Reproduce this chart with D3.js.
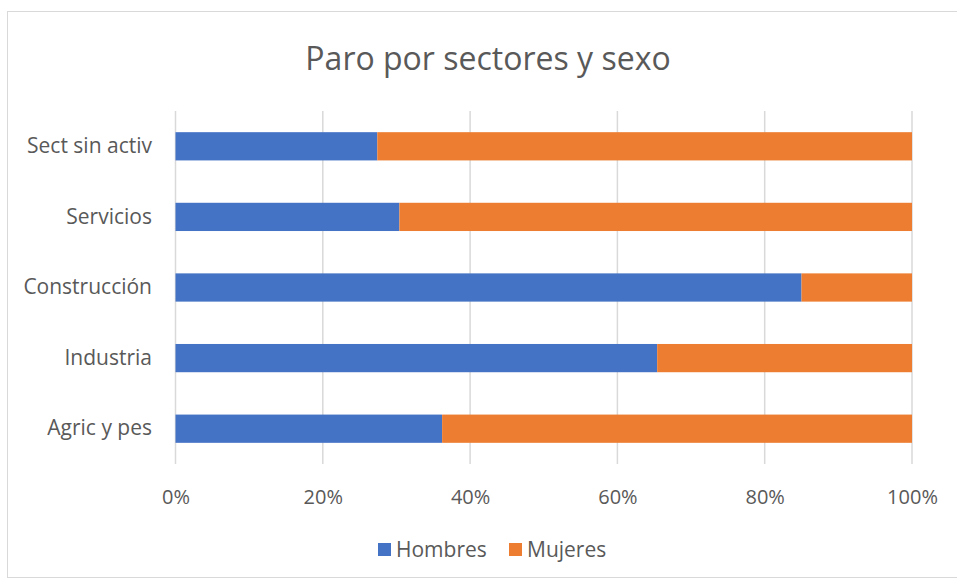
<!DOCTYPE html>
<html>
<head>
<meta charset="utf-8">
<script src="https://cdn.jsdelivr.net/npm/d3@7"></script>
<style>
    body { margin: 0; background: #fff; }
    svg { font-family: "Open Sans", "Noto Sans", sans-serif; }
    .tick text { fill: #595959; }
</style>
</head>
<body>
<script>
    var categories = ['Sect sin activ', 'Servicios', 'Construcción', 'Industria', 'Agric y pes'];
    var hombres = [27.4, 30.4, 85.0, 65.4, 36.2];
    var mujeres = [72.6, 69.6, 15.0, 34.6, 63.8];
    var seriesNames = ['Hombres', 'Mujeres'];
    var seriesColors = ['#4472C4', '#ED7D31'];
    var xTicks = [0, 20, 40, 60, 80, 100];

    var width = 957,
        height = 579;

    var svg = d3.select('body')
        .append('svg')
        .attr('width', width)
        .attr('height', height);

    // Chart frame
    svg.append('rect')
        .attr('x', 7.5)
        .attr('y', 11.5)
        .attr('width', 960)
        .attr('height', 566)
        .attr('fill', '#fff')
        .attr('stroke', '#d9d9d9');

    var xScale = d3.scaleLinear()
        .domain([0, 100])
        .range([175.5, 912]);

    var yScale = d3.scaleBand()
        .domain(categories)
        .range([111, 464])
        .paddingInner(0.6)
        .paddingOuter(0.3);

    // Gridlines
    svg.selectAll('.grid')
        .data(xTicks)
        .enter()
        .append('line')
        .attr('class', 'grid')
        .attr('x1', function (d) { return xScale(d); })
        .attr('x2', function (d) { return xScale(d); })
        .attr('y1', 111)
        .attr('y2', 464)
        .attr('stroke', '#d9d9d9')
        .attr('stroke-width', 1.5);

    // Stack data
    var rows = categories.map(function (c, i) {
        return { cat: c, Hombres: hombres[i], Mujeres: mujeres[i] };
    });
    var stacked = d3.stack().keys(seriesNames)(rows);

    var layers = svg.selectAll('.layer')
        .data(stacked)
        .enter()
        .append('g')
        .attr('class', 'layer')
        .attr('fill', function (d, i) { return seriesColors[i]; });

    layers.selectAll('rect')
        .data(function (d) { return d; })
        .enter()
        .append('rect')
        .attr('x', function (d) { return xScale(d[0]); })
        .attr('width', function (d) { return xScale(d[1]) - xScale(d[0]); })
        .attr('y', function (d) { return yScale(d.data.cat); })
        .attr('height', yScale.bandwidth());

    // X axis
    var xAxis = d3.axisBottom(xScale)
        .tickValues(xTicks)
        .tickSize(0)
        .tickPadding(0)
        .tickFormat(function (d) { return d + '%'; });

    svg.append('g')
        .attr('transform', 'translate(0,490)')
        .call(xAxis)
        .call(function (g) { g.select('.domain').remove(); })
        .selectAll('text')
        .attr('font-size', 20)
        .attr('font-family', '"Open Sans", sans-serif');

    // Y axis
    var yAxis = d3.axisLeft(yScale)
        .tickSize(0)
        .tickPadding(0);

    svg.append('g')
        .attr('transform', 'translate(152,0)')
        .call(yAxis)
        .call(function (g) { g.select('.domain').remove(); })
        .selectAll('text')
        .attr('font-size', 21)
        .attr('font-family', '"Open Sans", sans-serif');

    // Title
    svg.append('text')
        .attr('x', 488)
        .attr('y', 70)
        .attr('text-anchor', 'middle')
        .attr('font-size', 32)
        .attr('fill', '#595959')
        .text('Paro por sectores y sexo');

    // Legend
    var legendX = [378, 509];
    var legend = svg.selectAll('.legend')
        .data(seriesNames)
        .enter()
        .append('g')
        .attr('class', 'legend')
        .attr('transform', function (d, i) { return 'translate(' + legendX[i] + ',543)'; });

    legend.append('rect')
        .attr('width', 13)
        .attr('height', 13)
        .attr('fill', function (d, i) { return seriesColors[i]; });

    legend.append('text')
        .attr('x', 18)
        .attr('y', 14)
        .attr('font-size', 21)
        .attr('fill', '#595959')
        .text(function (d) { return d; });
</script>
</body>
</html>
